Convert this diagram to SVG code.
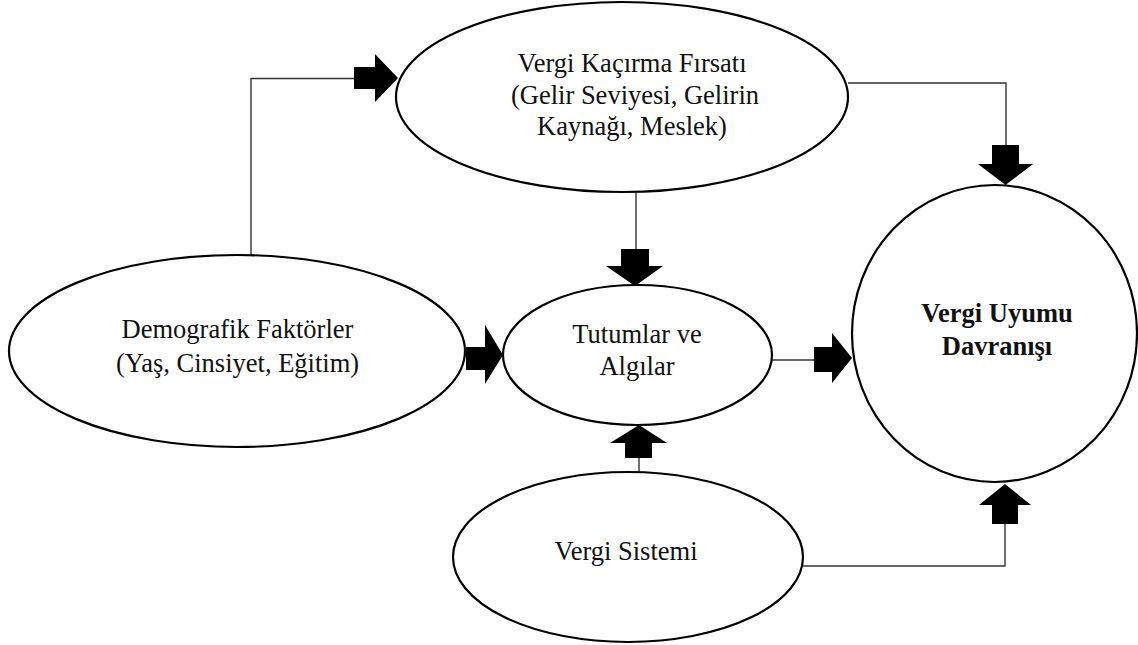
<svg xmlns="http://www.w3.org/2000/svg" width="1138" height="645" viewBox="0 0 1138 645">
<style>
.node ellipse{fill:#fff;stroke:#000;stroke-width:2.2}
.t{font-family:"Liberation Serif","Times New Roman",serif;font-size:26.5px;fill:#111;text-anchor:middle}
.b{font-weight:bold}
.ln{fill:none;stroke:#333;stroke-width:1.4}
.ar{fill:#000;stroke:none}
</style>
<rect width="1138" height="645" fill="#fff"/>
<g id="connectors">
<polyline class="ln" points="251,256 251,78.5 354,78.5"/>
<line class="ln" x1="243" y1="256" x2="251" y2="256"/>
<polygon class="ar" points="354,67 375,67 375,54 398,78 375,102 375,89 354,89"/>
<polyline class="ln" points="848,83 1006,83 1006,145"/>
<polygon class="ar" points="992,145 1019,145 1019,164 1033,164 1005.5,185 978,164 992,164"/>
<line class="ln" x1="636" y1="192" x2="636" y2="249"/>
<polygon class="ar" points="621,249 649,249 649,266 663,266 635,286 606,266 621,266"/>
<polygon class="ar" points="466,347 485,347 485,325 503,355 485,384 485,370 466,370"/>
<line class="ln" x1="772" y1="360" x2="814" y2="360"/>
<polygon class="ar" points="814,347 832,347 832,333 852,358 832,383 832,372 814,372"/>
<line class="ln" x1="639" y1="458" x2="639" y2="472"/>
<polygon class="ar" points="639,425 667,443 652,443 652,458 625,458 625,443 610,443"/>
<polyline class="ln" points="803,566 1005,566 1005,524"/>
<polygon class="ar" points="1005,484 1031,505 1018,505 1018,524 992,524 992,505 979,505"/>
</g>
<g id="node-vergi-kacirma" class="node">
<ellipse cx="622" cy="97" rx="226" ry="95"/>
<text class="t" x="632" y="72">Vergi Kaçırma Fırsatı</text>
<text class="t" x="635" y="104">(Gelir Seviyesi, Gelirin</text>
<text class="t" x="632" y="135">Kaynağı, Meslek)</text>
</g>
<g id="node-demografik" class="node">
<ellipse cx="237" cy="351" rx="228" ry="96"/>
<text class="t" x="237.5" y="338">Demografik Faktörler</text>
<text class="t" x="237.5" y="372">(Yaş, Cinsiyet, Eğitim)</text>
</g>
<g id="node-tutumlar" class="node">
<ellipse cx="637.5" cy="355" rx="134.5" ry="70"/>
<text class="t" x="637" y="343">Tutumlar ve</text>
<text class="t" x="637" y="375">Algılar</text>
</g>
<g id="node-vergi-sistemi" class="node">
<ellipse cx="628" cy="557" rx="175" ry="85"/>
<text class="t" x="626" y="560">Vergi Sistemi</text>
</g>
<g id="node-vergi-uyumu" class="node">
<ellipse cx="994.5" cy="333.5" rx="142.5" ry="148.5"/>
<text class="t b" x="997" y="322">Vergi Uyumu</text>
<text class="t b" x="997" y="355">Davranışı</text>
</g>
</svg>
